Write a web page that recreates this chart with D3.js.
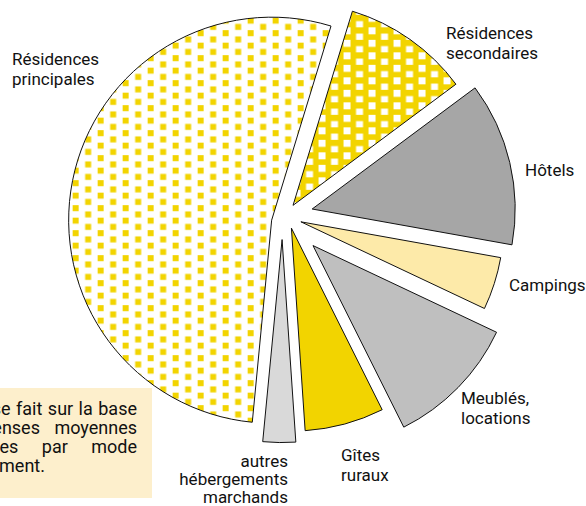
<!DOCTYPE html>
<html>
<head>
<meta charset="utf-8">
<script src="https://cdn.jsdelivr.net/npm/d3@7"></script>
<style>
  html, body { margin: 0; padding: 0; background: #fff; overflow: hidden; }
  svg { display: block; font-family: Roboto, "Liberation Sans", sans-serif; }
</style>
</head>
<body>
<svg id="chart" width="586" height="506"></svg>
<script>
// parts of spending by kind of lodging (%), clockwise from the top
var categories = ["Résidences secondaires", "Hôtels", "Campings", "Meublés, locations",
                  "Gîtes ruraux", "autres hébergements marchands", "Résidences principales"];
var values = [10.1, 13.0, 4.2, 10.6, 6.3, 2.6, 53.2];
var labelLines = [["Résidences", "secondaires"], ["Hôtels"], ["Campings"], ["Meublés,", "locations"],
                  ["Gîtes", "ruraux"], ["autres", "hébergements", "marchands"], ["Résidences", "principales"]];
var noteLines = ["se fait sur la base",
                 "dépenses moyennes",
                 "journalières par mode",
                 "d'hébergement."];

function init(){
    var svg = d3.select("#chart");
    var yellow = "#f2d400";

    var cx = 284.4, cy = 217.6, radius = 203;
    var startAngle = 17 * Math.PI / 180;
    // how far each slice is pulled out (along / across its middle)
    var explode = [15, 29, 17, 40, 12, 22, 12];
    var nudge = [0, -2, -1, 0, -4, 2, -5];
    var fills = ["url(#checks)", "#a6a6a6", "#fdeaa9", "#bfbfbf", yellow, "#d9d9d9", "url(#dots)"];
    // label anchor [x, baseline, text-anchor, line height]
    var labelPos = [[446, 39, "start", 19.5], [525, 176, "start", 19.5], [509, 291, "start", 19.5],
                    [461, 404, "start", 19.5], [341, 461, "start", 19.5], [288, 467, "end", 18.2],
                    [12, 65, "start", 20]];

    /* motifs */
    var defs = svg.append("defs");
    var dots = defs.append("pattern").attr("id", "dots")
        .attr("patternUnits", "userSpaceOnUse")
        .attr("x", 1).attr("y", -2.5).attr("width", 25).attr("height", 12.5);
    dots.append("rect").attr("width", 25).attr("height", 12.5).attr("fill", "#fff");
    dots.append("rect").attr("x", 0).attr("y", 0).attr("width", 6).attr("height", 6).attr("fill", yellow);
    dots.append("rect").attr("x", 12.5).attr("y", 6.25).attr("width", 6).attr("height", 6).attr("fill", yellow);

    var checks = defs.append("pattern").attr("id", "checks")
        .attr("patternUnits", "userSpaceOnUse")
        .attr("x", 0.5).attr("y", -3).attr("width", 25).attr("height", 12.5);
    checks.append("rect").attr("width", 25).attr("height", 12.5).attr("fill", yellow);
    checks.append("rect").attr("x", 0).attr("y", 0).attr("width", 7).attr("height", 7).attr("fill", "#fff");
    checks.append("rect").attr("x", 12.5).attr("y", 6.25).attr("width", 7).attr("height", 7).attr("fill", "#fff");

    /* camembert */
    var pie = d3.pie().sort(null).value(function(d){ return d; })
        .startAngle(startAngle).endAngle(startAngle + 2 * Math.PI);
    var arc = d3.arc().innerRadius(0).outerRadius(radius);
    var arcs = pie(values);

    svg.append("g").selectAll("path")
        .data(arcs)
        .enter().append("path")
        .attr("d", arc)
        .attr("transform", function(d, i){
            var a = (d.startAngle + d.endAngle) / 2;
            var x = cx + explode[i] * Math.sin(a) + nudge[i] * Math.cos(a);
            var y = cy - explode[i] * Math.cos(a) + nudge[i] * Math.sin(a);
            return "translate(" + x + "," + y + ")";
        })
        .attr("fill", function(d, i){ return fills[i]; })
        .attr("stroke", "#111")
        .attr("stroke-width", 1)
        .attr("stroke-linejoin", "miter");

    /* étiquettes */
    var labels = svg.append("g").attr("font-size", 17).attr("fill", "#111");
    labelLines.forEach(function(lines, i){
        var t = labels.append("text")
            .attr("text-anchor", labelPos[i][2]);
        lines.forEach(function(s, j){
            t.append("tspan").attr("x", labelPos[i][0]).attr("y", labelPos[i][1] + j * labelPos[i][3]).text(s);
        });
    });

    /* note en bas à gauche (coupée par le cadre) */
    svg.append("rect").attr("x", -300).attr("y", 388).attr("width", 452).attr("height", 110)
        .attr("fill", "#fdefcc");
    var note = svg.append("g").attr("font-size", 18).attr("fill", "#111");
    var spacing = [1, 10, 19, 0];
    noteLines.forEach(function(s, i){
        var last = (i == noteLines.length - 1);
        note.append("text")
            .attr("x", last ? 45 : 137)
            .attr("y", 415 + i * 19)
            .attr("text-anchor", "end")
            .attr("word-spacing", spacing[i])
            .text(s);
    });
}

init();
</script>
</body>
</html>
